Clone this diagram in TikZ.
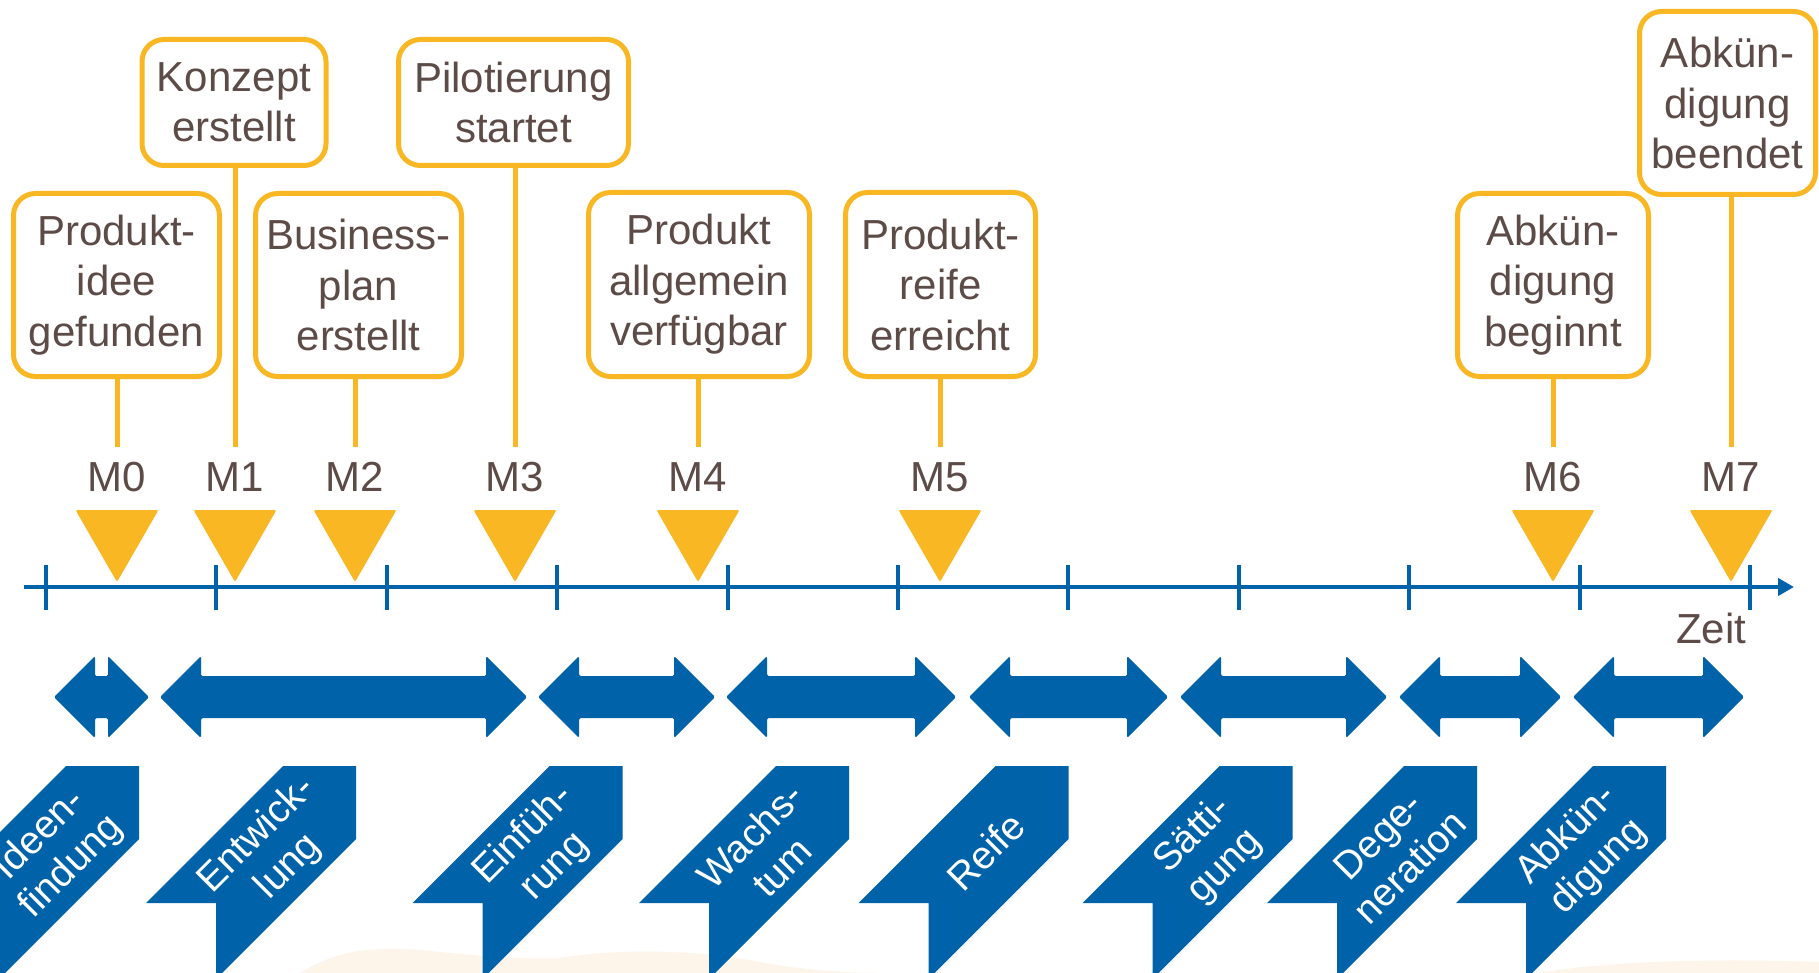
\documentclass[tikz,border=0pt]{standalone}
\usepackage{fontspec}
\setmainfont{Liberation Sans}
\usetikzlibrary{arrows.meta}
\definecolor{mblue}{HTML}{0062A9}
\definecolor{morange}{HTML}{FAB724}
\definecolor{mtext}{HTML}{5C4B47}
\definecolor{mpeach}{HTML}{FDF1E2}
\newcommand\mbfont{\fontsize{42}{50.5}\selectfont}
\newcommand\mtfont{\fontsize{39}{45}\selectfont}
\begin{document}
\begin{tikzpicture}[x=1pt,y=-1pt,
  msbox/.style={draw=morange, line width=5pt, rounded corners=22pt, fill=white,
    text=mtext, align=center, inner sep=0pt, font=\mbfont},
  conn/.style={draw=morange, line width=5pt},
  mlabel/.style={anchor=base, text=mtext, font=\mbfont, inner sep=0pt},
  tagtext/.style={rotate=45, text=white, align=center, font=\mtfont, inner sep=0pt},
  axisline/.style={draw=mblue, line width=4pt},
  tickline/.style={draw=mblue, line width=4pt}]
\useasboundingbox (0,0) rectangle (1819,973);
\fill[white] (0,0) rectangle (1819,973);
% faint background shading at the bottom
\fill[mpeach, opacity=0.7] (300,973) .. controls (330,955) and (360,945) .. (420,950)
  .. controls (470,955) and (520,960) .. (560,958) .. controls (620,948) and (700,950) .. (760,962)
  .. controls (800,970) and (850,973) .. (880,973) -- cycle;
\fill[mpeach, opacity=0.7] (1540,973) .. controls (1600,962) and (1700,958) .. (1819,962) -- (1819,973) -- cycle;

% milestone boxes
\node[msbox, minimum width=206pt, minimum height=183pt] (P0) at (116.5,285) {Produkt-\\idee\\gefunden};
\node[msbox, minimum width=184pt, minimum height=126pt] (P1) at (234,102.5) {Konzept\\erstellt};
\node[msbox, minimum width=206pt, minimum height=183pt] (P2) at (358.5,285) {Business-\\plan\\erstellt};
\node[msbox, minimum width=230pt, minimum height=126pt] (P3) at (513.5,102.5) {Pilotierung\\startet};
\node[msbox, minimum width=221pt, minimum height=184pt] (P4) at (699,284.5) {Produkt\\allgemein\\verfügbar};
\node[msbox, minimum width=190pt, minimum height=184pt] (P5) at (940.5,284.5) {Produkt-\\reife\\erreicht};
\node[msbox, minimum width=191pt, minimum height=183pt] (P6) at (1553,285) {Abkün-\\digung\\beginnt};
\node[msbox, minimum width=176pt, minimum height=183pt] (P7) at (1727.5,103) {Abkün-\\digung\\beendet};

% connectors, labels and triangles
\foreach \i/\x in {0/117,1/235,2/355,3/515,4/698,5/940,6/1553,7/1731}{
  \coordinate (c\i) at (\x,447);
  \draw[conn] (P\i.south -| c\i) -- (c\i);
  \node[mlabel] (M\i) at (\x,491) {M\i};
  \fill[morange, rounded corners=2pt] ({\x-41.5},510) -- ({\x+41.5},510) -- (\x,582) -- cycle;
}

% time axis
\coordinate (ax0) at (24,587);
\coordinate (ax1) at (1794,587);
\draw[axisline, -{Triangle[length=16pt,width=17pt]}] (ax0) -- (ax1);
\foreach \k in {0,...,10}{
  \coordinate (t\k) at ({46+170.4*\k},587);
  \draw[tickline] ([yshift=-23pt]t\k) -- ([yshift=22pt]t\k);
}
\node[mlabel] (zeit) at (1711,643) {Zeit};

% double arrows (phase durations)
\foreach \a/\b in {54/149,160/527,538/715,726/956,969/1168,1180/1387,1399/1561,1573/1744}{
  \fill[mblue, rounded corners=1.5pt] (\a,697) -- ({\a+41},656) -- ({\a+41},676) -- ({\b-41},676)
    -- ({\b-41},656) -- (\b,697) -- ({\b-41},738) -- ({\b-41},718) -- ({\a+41},718)
    -- ({\a+41},738) -- cycle;
}

% phase tags
\foreach \r/\t [count=\n] in {139/{Ideen-\\findung},356/{Entwick-\\lung},622.5/{Einfüh-\\rung},
  849/{Wachs-\\tum},1068.5/{Reife},1292.5/{Sätti-\\gung},1477/{Dege-\\neration},1666/{Abkün-\\digung}}{
  \fill[mblue] ({\r-73},766) -- (\r,766) -- (\r,839) -- ({\r-140},979) -- ({\r-140},903)
    -- ({\r-210},903) -- cycle;
  \node[tagtext] (T\n) at ({\r-83},851) {\t};
}
\end{tikzpicture}
\end{document}
